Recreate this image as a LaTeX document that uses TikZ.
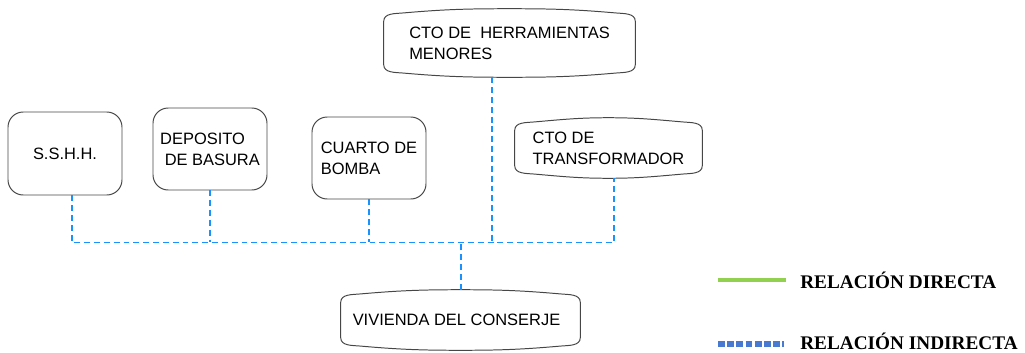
\documentclass[tikz,border=0pt]{standalone}
\usepackage{fontspec}
\setmainfont{Liberation Sans}
\newfontfamily\legendfont{Liberation Serif}
\usepackage{xcolor}
\usetikzlibrary{calc}
\definecolor{mygray}{RGB}{70,70,70}
\definecolor{myblue}{RGB}{25,145,255}
\definecolor{mygreen}{RGB}{146,208,80}
\definecolor{mylegblue}{RGB}{72,122,210}

% outline with slightly curved top and bottom
\newcommand{\bulgeoutline}[1]{%
\draw[boxline] ([yshift=-9pt]#1.north west) -- ([yshift=9pt]#1.south west)
  to[out=-90,in=175] ([xshift=14pt,yshift=3pt]#1.south west)
  to[out=-5,in=180] (#1.south)
  to[out=0,in=185] ([xshift=-14pt,yshift=3pt]#1.south east)
  to[out=5,in=-90] ([yshift=9pt]#1.south east)
  -- ([yshift=-9pt]#1.north east)
  to[out=90,in=-5] ([xshift=-14pt,yshift=-3pt]#1.north east)
  to[out=175,in=0] (#1.north)
  to[out=180,in=5] ([xshift=14pt,yshift=-3pt]#1.north west)
  to[out=185,in=90] cycle;}

\begin{document}
\begin{tikzpicture}[
  boxline/.style={draw=mygray, line width=0.7pt},
  roundbox/.style={boxline, rounded corners=0.38cm, align=left,
    minimum width=2.85cm, minimum height=2.05cm,
    font=\fontsize{11.7}{15}\selectfont},
  bulgebox/.style={align=left, inner sep=0pt,
    font=\fontsize{11.7}{15}\selectfont},
  indirect/.style={myblue, line width=1.1pt, dash pattern=on 4.2pt off 2.8pt},
  legendtext/.style={anchor=west, inner sep=0pt,
    font=\legendfont\bfseries\fontsize{13.7}{16}\selectfont}
]
\useasboundingbox (0,0) rectangle (25.625,-8.8);

\node[roundbox, minimum height=2.075cm] (sshh) at (1.625,-3.8375) {S.S.H.H.};
\node[roundbox] (deposito) at (5.25,-3.725) {DEPOSITO\\\ DE BASURA};
\node[roundbox] (bomba) at (9.225,-3.95) {CUARTO DE\\BOMBA};

\node[bulgebox, minimum width=6.275cm, minimum height=1.7cm] (herramientas) at (12.7375,-1.075) {CTO DE\ \ HERRAMIENTAS\\MENORES};
\node[bulgebox, minimum width=4.675cm, minimum height=1.5cm] (trafo) at (15.2125,-3.7) {CTO DE\\TRANSFORMADOR};
\node[bulgebox, minimum width=5.975cm, minimum height=1.5cm] (vivienda) at (11.5125,-8.0) {VIVIENDA DEL CONSERJE\hspace{0.2cm}};
\bulgeoutline{herramientas}
\bulgeoutline{trafo}
\bulgeoutline{vivienda}

% indirect relations
\coordinate (bus) at (0,-6.06);
\coordinate (sshh-b) at ([xshift=0.175cm]sshh.south);
\coordinate (herr-b) at ([xshift=-0.44cm]herramientas.south);
\coordinate (trafo-b) at ([xshift=0.14cm]trafo.south);
\coordinate (viv-b) at ([xshift=0.01cm]vivienda.north);

\draw[indirect] (sshh-b) |- (trafo-b |- bus) -- (trafo-b);
\draw[indirect] (deposito.south) -- (deposito.south |- bus);
\draw[indirect] (bomba.south) -- (bomba.south |- bus);
\draw[indirect] (herr-b) -- (herr-b |- bus);
\draw[indirect] (viv-b) -- (viv-b |- bus);

% legend
\coordinate (dirA) at (17.95,-7.0);
\coordinate (dirB) at (19.65,-7.0);
\coordinate (indA) at (17.95,-8.6);
\coordinate (indB) at (19.6,-8.6);
\draw[mygreen, line width=0.1cm] (dirA) -- (dirB);
\draw[mylegblue, line width=0.15cm, dash pattern=on 0.17cm off 0.06cm] (indA) -- (indB);
\node[legendtext] (directa) at (20.0,-7.0) {RELACIÓN DIRECTA};
\node[legendtext] (indirecta) at (20.0,-8.53) {RELACIÓN INDIRECTA};
\end{tikzpicture}
\end{document}
